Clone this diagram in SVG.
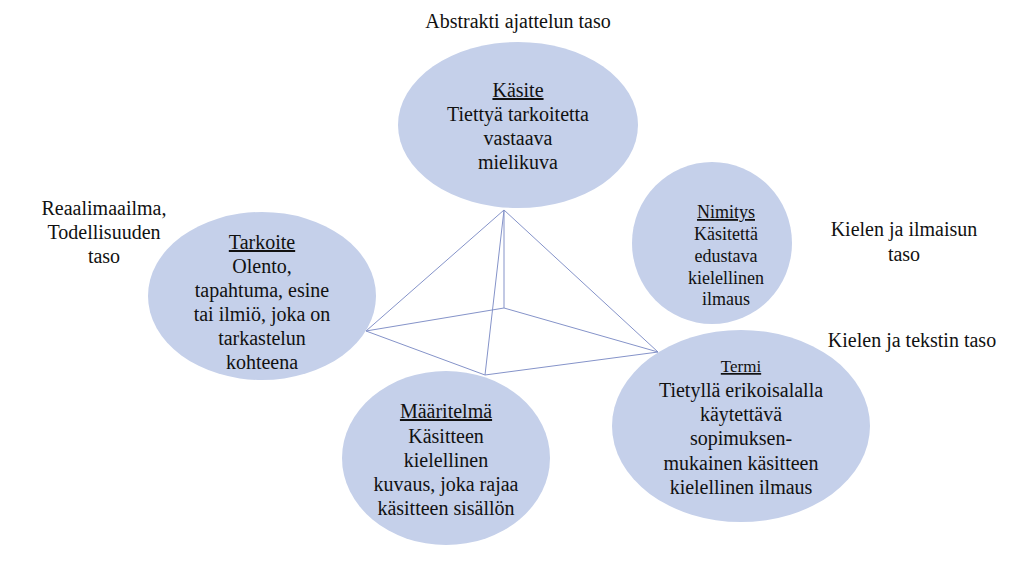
<svg xmlns="http://www.w3.org/2000/svg" width="1023" height="564" viewBox="0 0 1023 564" font-family="'Liberation Serif', 'Times New Roman', 'DejaVu Serif', serif">
<style>
.bg{fill:#ffffff}
.node{fill:#c5d0ea}
text{font-family:'Liberation Serif','Times New Roman','DejaVu Serif',serif;font-size:20px;fill:#111;text-anchor:middle}
.s{font-size:18px}
.s2{font-size:17px}
.u{text-decoration:underline}
.edge{stroke:#8593c9;stroke-width:1;fill:none}
</style>
<rect class="bg" x="0" y="0" width="1023" height="564"/>
<text x="518" y="28">Abstrakti ajattelun taso</text>
<text x="104" y="215">Reaalimaailma,</text>
<text x="104" y="239">Todellisuuden</text>
<text x="104" y="263">taso</text>
<text x="904" y="236">Kielen ja ilmaisun</text>
<text x="904" y="261">taso</text>
<text x="912" y="347">Kielen ja tekstin taso</text>
<g id="kasite">
<ellipse class="node" cx="518" cy="125" rx="120" ry="83"/>
<text><tspan class="u" x="518" y="97">Käsite</tspan><tspan x="518" y="121">Tiettyä tarkoitetta</tspan><tspan x="518" y="145">vastaava</tspan><tspan x="518" y="169">mielikuva</tspan></text>
</g>
<g id="tarkoite">
<ellipse class="node" cx="262" cy="296" rx="114" ry="84"/>
<text><tspan class="u" x="262" y="249">Tarkoite</tspan><tspan x="262" y="273">Olento,</tspan><tspan x="262" y="297">tapahtuma, esine</tspan><tspan x="262" y="321">tai ilmiö, joka on</tspan><tspan x="262" y="345">tarkastelun</tspan><tspan x="262" y="369">kohteena</tspan></text>
</g>
<g id="nimitys">
<ellipse class="node" cx="712" cy="243" rx="80" ry="81"/>
<text class="s"><tspan class="u" x="726" y="218">Nimitys</tspan><tspan x="726" y="240">Käsitettä</tspan><tspan x="726" y="262">edustava</tspan><tspan x="726" y="284">kielellinen</tspan><tspan x="726" y="305">ilmaus</tspan></text>
</g>
<g id="termi">
<ellipse class="node" cx="741" cy="426" rx="129" ry="96"/>
<text><tspan class="u s2" x="741" y="372">Termi</tspan><tspan x="741" y="397">Tietyllä erikoisalalla</tspan><tspan x="741" y="421">käytettävä</tspan><tspan x="741" y="445">sopimuksen-</tspan><tspan x="741" y="470">mukainen käsitteen</tspan><tspan x="741" y="494">kielellinen ilmaus</tspan></text>
</g>
<g id="maaritelma">
<ellipse class="node" cx="446" cy="458" rx="104" ry="87"/>
<text><tspan class="u" x="446" y="418">Määritelmä</tspan><tspan x="446" y="443">Käsitteen</tspan><tspan x="446" y="467">kielellinen</tspan><tspan x="446" y="491">kuvaus, joka rajaa</tspan><tspan x="446" y="515">käsitteen sisällön</tspan></text>
</g>
<g id="connectors">
<line class="edge" x1="504" y1="210" x2="366" y2="331"/>
<line class="edge" x1="504" y1="210" x2="658" y2="352"/>
<line class="edge" x1="504" y1="210" x2="485" y2="375"/>
<line class="edge" x1="504" y1="210" x2="504" y2="308"/>
<line class="edge" x1="366" y1="331" x2="504" y2="308"/>
<line class="edge" x1="504" y1="308" x2="658" y2="352"/>
<line class="edge" x1="366" y1="331" x2="485" y2="375"/>
<line class="edge" x1="485" y1="375" x2="658" y2="352"/>
</g>
</svg>
